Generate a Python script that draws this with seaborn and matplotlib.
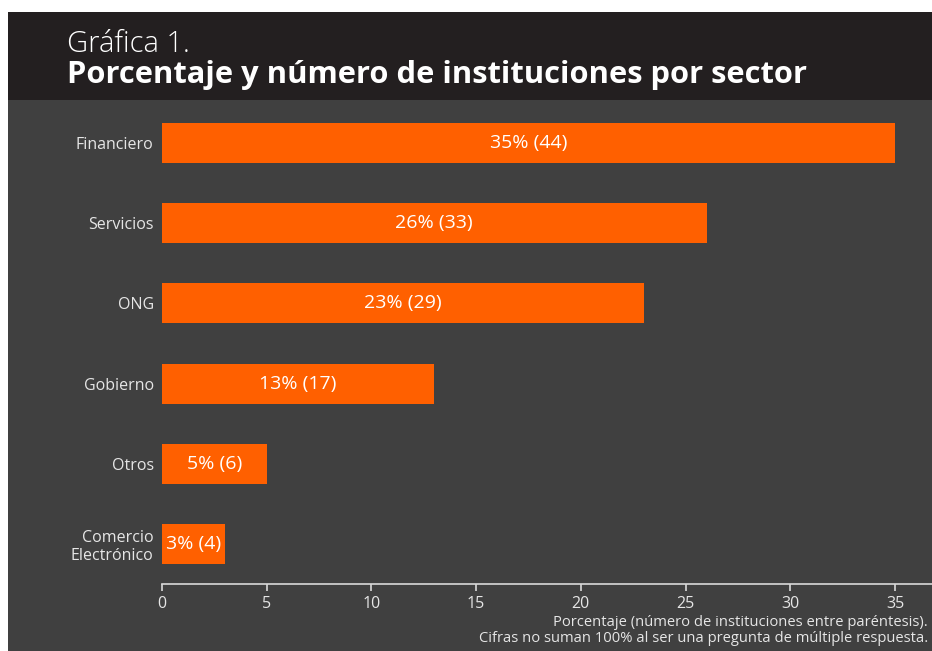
import matplotlib
matplotlib.use("Agg")
import matplotlib.pyplot as plt
import seaborn as sns
import pandas as pd
from matplotlib.patches import Rectangle

sectores = ["Financiero", "Servicios", "ONG", "Gobierno", "Otros", "Comercio\nElectrónico"]
porcentajes = [35, 26, 23, 13, 5, 3]
instituciones = [44, 33, 29, 17, 6, 4]
xticks = [0, 5, 10, 15, 20, 25, 30, 35]

df = pd.DataFrame({"sector": sectores, "pct": porcentajes, "n": instituciones})

sns.set_style("white")
plt.rcParams["font.family"] = ["Open Sans", "DejaVu Sans"]

W, H = 932, 651
fig = plt.figure(figsize=(W / 100, H / 100), dpi=100)
fig.patch.set_facecolor("white")

# header and body panels
fig.patches.append(Rectangle((8 / W, (H - 100) / H), 1, 88 / H, transform=fig.transFigure,
                             facecolor="#231f20", edgecolor="none", zorder=-5))
fig.patches.append(Rectangle((8 / W, 0), 1, (H - 100) / H, transform=fig.transFigure,
                             facecolor="#404040", edgecolor="none", zorder=-5))

fig.text(67 / W, 1 - 52 / H, "Gráfica 1.", color="white", fontsize=21, fontweight="light",
         ha="left", va="baseline")
fig.text(67 / W, 1 - 83 / H, "Porcentaje y número de instituciones por sector", color="white",
         fontsize=22.2, fontweight="bold", ha="left", va="baseline")

ax = fig.add_axes([162 / W, (H - 584) / H, (W - 162) / W, (584 - 103) / H])
ax.set_facecolor("none")
ax.set_zorder(2)

sns.barplot(data=df, y="sector", x="pct", orient="h", color="#ff6000", width=0.5,
            saturation=1, linewidth=0, edgecolor="none", ax=ax)

for i, (p, n) in enumerate(zip(porcentajes, instituciones)):
    ax.text(p / 2, i, f"{p}% ({n})", color="white", fontsize=14, ha="center", va="center")

ax.set_xlim(0, (W - 162) / (895 - 162) * 35)
ax.set_ylim(5.5, -0.5)
ax.set_xticks(xticks)
ax.set_xlabel("")
ax.set_ylabel("")
for s in ["top", "right", "left"]:
    ax.spines[s].set_visible(False)
ax.spines["bottom"].set_color("#d9d9d9")
ax.spines["bottom"].set_linewidth(1.2)
ax.tick_params(axis="x", bottom=True, colors="#e6e6e6", length=5, width=1.2, labelsize=11.5,
               direction="out", pad=4)
ax.tick_params(axis="x", color="#d9d9d9")
ax.tick_params(axis="y", left=False, colors="#e6e6e6", length=0, labelsize=11.5, pad=6)
for lbl in ax.get_yticklabels():
    lbl.set_multialignment("right")

fig.text(928 / W, 1 - 623 / H, "Porcentaje (número de instituciones entre paréntesis).",
         color="#e6e6e6", fontsize=10.6, ha="right", va="center")
fig.text(928 / W, 1 - 638 / H, "Cifras no suman 100% al ser una pregunta de múltiple respuesta.",
         color="#e6e6e6", fontsize=10.6, ha="right", va="center")

fig.savefig("out.png", dpi=100, facecolor=fig.get_facecolor())
